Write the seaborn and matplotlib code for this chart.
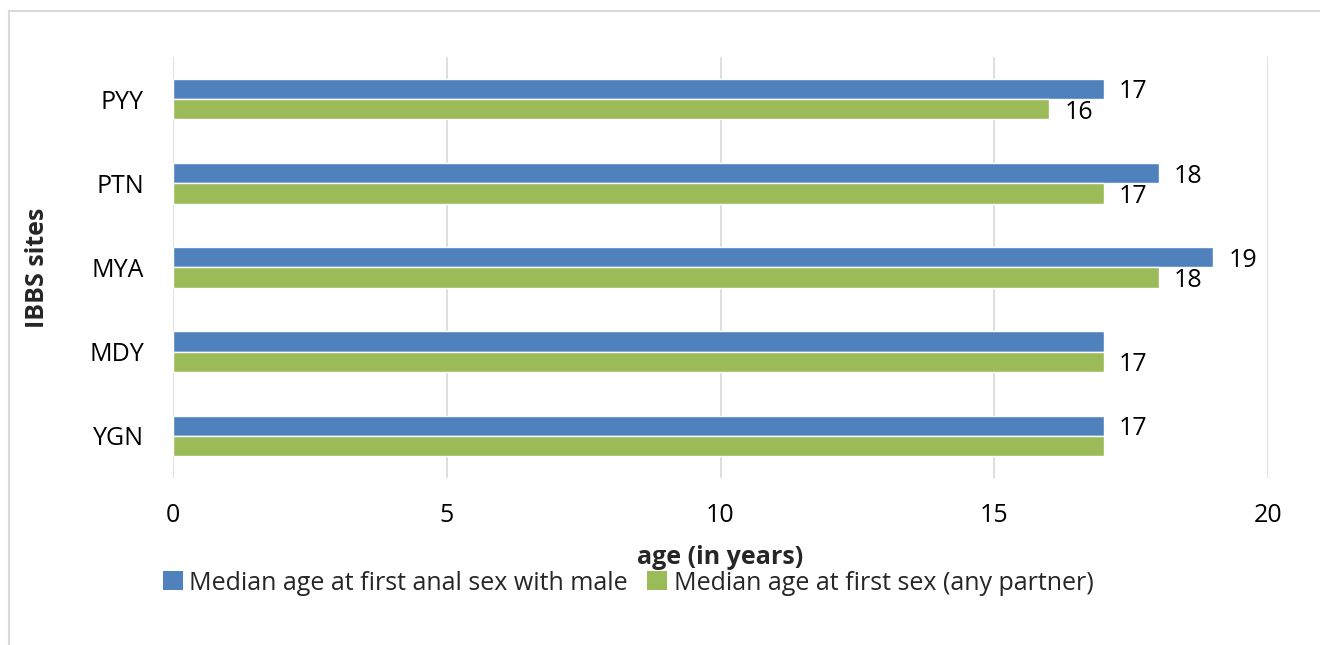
import matplotlib
matplotlib.use("Agg")
import matplotlib.pyplot as plt
from matplotlib.patches import Rectangle, Patch
import seaborn as sns
import pandas as pd

# Median ages by IBBS site
sites = ["PYY", "PTN", "MYA", "MDY", "YGN"]
anal_sex_male = [17, 18, 19, 17, 17]
first_sex_any = [16, 17, 18, 17, 17]
anal_labels = ["17", "18", "19", "", "17"]
any_labels = ["16", "17", "18", "17", ""]
series_names = ["Median age at first anal sex with male",
                "Median age at first sex (any partner)"]
colors = ["#4F81BD", "#9BBB59"]
x_ticks = [0, 5, 10, 15, 20]

df = pd.DataFrame({
    "site": sites * 2,
    "age": anal_sex_male + first_sex_any,
    "series": [series_names[0]] * len(sites) + [series_names[1]] * len(sites),
})

sns.set_theme(style="white")
plt.rcParams["font.family"] = ["Open Sans", "DejaVu Sans"]
FS = 18

fig = plt.figure(figsize=(13.2, 6.45), dpi=100)
ax = fig.add_axes([173 / 1320, 1 - 478 / 645, (1268 - 173) / 1320, (478 - 57) / 645])

sns.barplot(data=df, y="site", x="age", hue="series", order=sites,
            hue_order=series_names, palette=colors, orient="h",
            width=0.48, ax=ax, legend=False, saturation=1)

for cont, labs in zip(ax.containers, [anal_labels, any_labels]):
    texts = ax.bar_label(cont, labels=labs, padding=11, fontsize=FS, color="black")
    for t in texts:
        t.set_va("center_baseline")

ax.set_xlim(0, 20)
ax.set_ylim(len(sites) - 0.5, -0.5)
ax.set_xticks(x_ticks)
ax.set_xticklabels([str(t) for t in x_ticks])
ax.grid(axis="x", color="#D9D9D9", linewidth=1.2)
ax.set_axisbelow(True)
for s in ax.spines.values():
    s.set_visible(False)
ax.tick_params(axis="both", length=0, labelsize=FS, colors="black")
ax.tick_params(axis="x", pad=18)
ax.tick_params(axis="y", pad=21)
ax.set_xlabel("")
ax.set_ylabel("IBBS sites", fontsize=FS, fontweight="bold")
ax.yaxis.set_label_coords(-0.112, 0.5)

fig.text(720 / 1320, 1 - 557 / 645, "age (in years)", ha="center", va="center",
         fontsize=FS, fontweight="bold")

handles = [Patch(facecolor=c, edgecolor="none") for c in colors]
fig.legend(handles, series_names, loc="center", bbox_to_anchor=(628 / 1320, 1 - 583 / 645),
           ncol=2, frameon=False, fontsize=FS, handlelength=0.8, handleheight=0.8,
           handletextpad=0.25, columnspacing=0.8)

fig.patches.append(Rectangle((9 / 1320, -0.1), 1.2, 1.1 - 11 / 645,
                             transform=fig.transFigure, fill=False,
                             edgecolor="#D9D9D9", linewidth=1.5, clip_on=False))

fig.savefig("out.png", dpi=100)
